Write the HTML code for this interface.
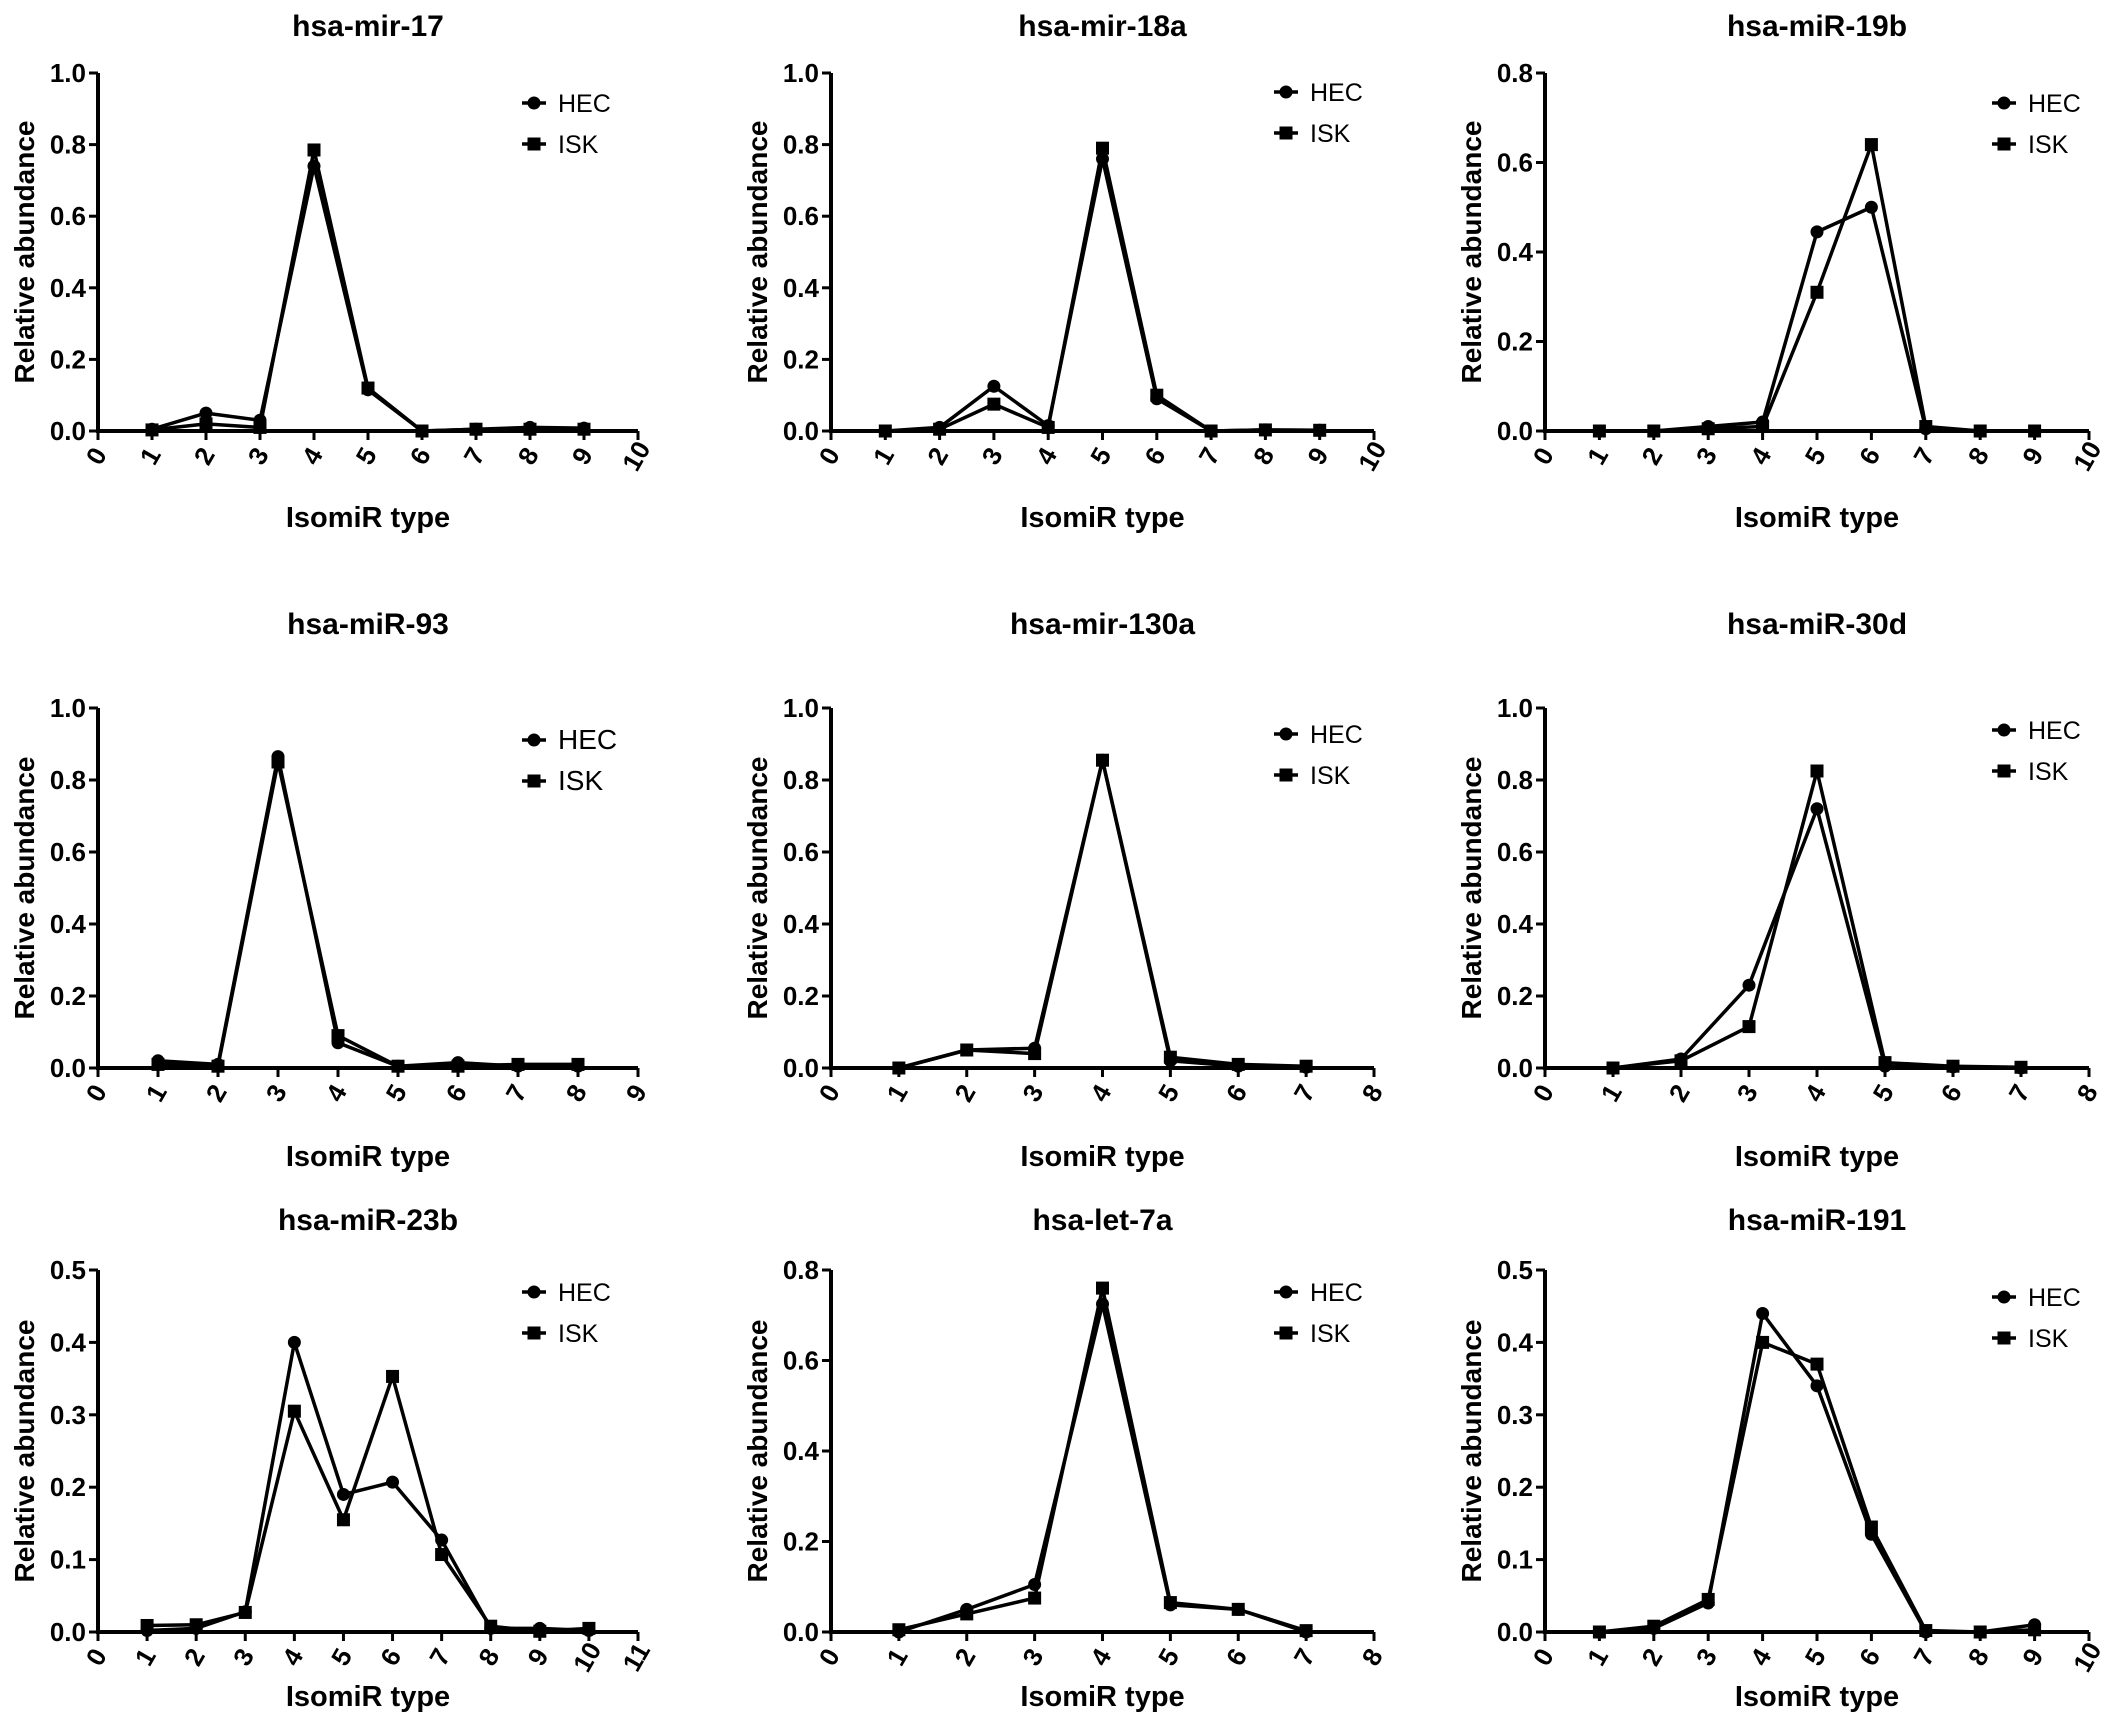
<!DOCTYPE html>
<html><head><meta charset="utf-8"><style>
body{margin:0;background:#fff}
svg{display:block;font-family:"Liberation Sans",Arial,sans-serif}
</style></head><body>
<svg id="chart" width="2109" height="1722" viewBox="0 0 2109 1722" xmlns="http://www.w3.org/2000/svg"></svg>
<script>
const titles=["hsa-mir-17","hsa-mir-18a","hsa-miR-19b","hsa-miR-93","hsa-mir-130a","hsa-miR-30d","hsa-miR-23b","hsa-let-7a","hsa-miR-191"];
const xMaxes=[10,10,10,9,8,8,11,8,10];
const yMaxes=[1.0,1.0,0.8,1.0,1.0,1.0,0.5,0.8,0.5];
const yStepList=[0.2,0.2,0.2,0.2,0.2,0.2,0.1,0.2,0.1];
const hec1=[0.005,0.05,0.03,0.74,0.115,0,0.005,0.01,0.008];
const isk1=[0.003,0.02,0.01,0.785,0.12,0,0.005,0.005,0.005];
const hec2=[0,0.01,0.125,0.015,0.76,0.09,0,0.003,0.002];
const isk2=[0,0.005,0.075,0.01,0.79,0.1,0,0.003,0.002];
const hec3=[0,0,0.01,0.02,0.445,0.5,0.005,0,0];
const isk3=[0,0,0.005,0.01,0.31,0.64,0.01,0,0];
const hec4=[0.02,0.01,0.865,0.07,0.005,0.015,0.005,0.005];
const isk4=[0.01,0.005,0.85,0.09,0.005,0.005,0.01,0.01];
const hec5=[0,0.05,0.055,0.855,0.02,0.005,0.002];
const isk5=[0,0.05,0.04,0.855,0.03,0.01,0.005];
const hec6=[0,0.025,0.23,0.72,0.005,0.003,0];
const isk6=[0,0.02,0.115,0.825,0.015,0.005,0.002];
const hec7=[0.002,0.005,0.028,0.4,0.19,0.207,0.127,0.005,0.005,0.002];
const isk7=[0.009,0.01,0.027,0.305,0.155,0.353,0.107,0.008,0.001,0.005];
const hec8=[0,0.05,0.105,0.725,0.06,0.05,0];
const isk8=[0.005,0.04,0.075,0.76,0.065,0.05,0.003];
const hec9=[0,0.005,0.04,0.44,0.34,0.135,0,0,0.01];
const isk9=[0,0.008,0.045,0.4,0.37,0.145,0.002,0,0.003];
const hecAll=[hec1,hec2,hec3,hec4,hec5,hec6,hec7,hec8,hec9];
const iskAll=[isk1,isk2,isk3,isk4,isk5,isk6,isk7,isk8,isk9];

const NS="http://www.w3.org/2000/svg";
const svg=document.getElementById('chart');
function mk(tag,attrs,parent){const e=document.createElementNS(NS,tag);for(const k in attrs)e.setAttribute(k,attrs[k]);(parent||svg).appendChild(e);return e;}
const colL=[98,831,1545], colR=[638,1374,2089];
const rowT=[73,708,1270], rowB=[431,1068,1632];
const titleY=[36,634,1230], xlabY=[527,1166,1706];
const legY=[[103,92,103],[740,734,730],[1292,1292,1297]];
const legX=[534,1286,2004];

for(let p=0;p<9;p++){
  const r=Math.floor(p/3), c=p%3;
  const L=colL[c],R=colR[c],T=rowT[r],B=rowB[r];
  const xm=xMaxes[p], ym=yMaxes[p], ys=yStepList[p];
  const sx=v=>L+(R-L)*v/xm;
  const sy=v=>B-(B-T)*v/ym;
  const g=mk('g',{});
  
  
  const t=mk('text',{x:(L+R)/2,y:titleY[r],'text-anchor':'middle','font-size':30,'font-weight':'bold'},g);
  t.textContent=titles[p];
  
  
  const ya=mk('line',{x1:L,y1:T,x2:L,y2:B+2,stroke:'#000','stroke-width':4},g);
  
  
  const xa=mk('line',{x1:L-2,y1:B,x2:R,y2:B,stroke:'#000','stroke-width':4},g);
  
  
  const nY=Math.round(ym/ys);
  for(let i=0;i<=nY;i++){
    const v=i*ys, y=sy(v);
    mk('line',{x1:L-9,y1:y,x2:L,y2:y,stroke:'#000','stroke-width':3},g);
    const tl=mk('text',{x:L-12,y:y+9,'text-anchor':'end','font-size':26,'font-weight':'bold'},g);
    tl.textContent=v.toFixed(1);
    
    
  }
  for(let i=0;i<=xm;i++){
    const x=sx(i);
    mk('line',{x1:x,y1:B,x2:x,y2:B+9,stroke:'#000','stroke-width':3},g);
    const tl=mk('text',{x:x,y:B+26,'text-anchor':'middle','font-size':26,'font-weight':'bold',transform:`rotate(-60 ${x} ${B+26})`,'dominant-baseline':'middle'},g);
    tl.textContent=String(i);
    
    
  }
  const xl=mk('text',{x:(L+R)/2,y:xlabY[r],'text-anchor':'middle','font-size':29,'font-weight':'bold'},g);
  xl.textContent='IsomiR type';
  
  
  const yc=(T+B)/2, yx=L-64;
  const yl=mk('text',{x:yx,y:yc,'text-anchor':'middle','font-size':28,'font-weight':'bold',transform:`rotate(-90 ${yx} ${yc})`},g);
  yl.textContent='Relative abundance';
  
  
  const series=[[hecAll[p],'circle','hec'],[iskAll[p],'square','isk']];
  for(const [vals,shape,nm] of series){
    const pts=vals.map((v,i)=>sx(i+1)+','+sy(v)).join(' ');
    const pl=mk('polyline',{points:pts,fill:'none',stroke:'#000','stroke-width':3.5,'stroke-linejoin':'round'},g);
    
    
    vals.forEach((v,i)=>{
      const x=sx(i+1),y=sy(v);
      let m;
      if(shape==='circle') m=mk('circle',{cx:x,cy:y,r:6.5,fill:'#000'},g);
      else m=mk('rect',{x:x-6.5,y:y-6.5,width:13,height:13,fill:'#000'},g);
      
      
    });
  }
  const lx=legX[c], ly=legY[r][c];
  const fs=(p===3)?28:25;
  const items=[['HEC','circle',ly],['ISK','square',ly+41]];
  for(const [lab,shape,yy] of items){
    const lg=mk('g',{},g);
    
    
    mk('line',{x1:lx-12,y1:yy,x2:lx+12,y2:yy,stroke:'#000','stroke-width':3.5},lg);
    if(shape==='circle') mk('circle',{cx:lx,cy:yy,r:6.5,fill:'#000'},lg);
    else mk('rect',{x:lx-6.5,y:yy-6.5,width:13,height:13,fill:'#000'},lg);
    const tx=mk('text',{x:lx+24,y:yy+9,'font-size':fs},lg);
    tx.textContent=lab;
  }
}
</script>
</body></html>
